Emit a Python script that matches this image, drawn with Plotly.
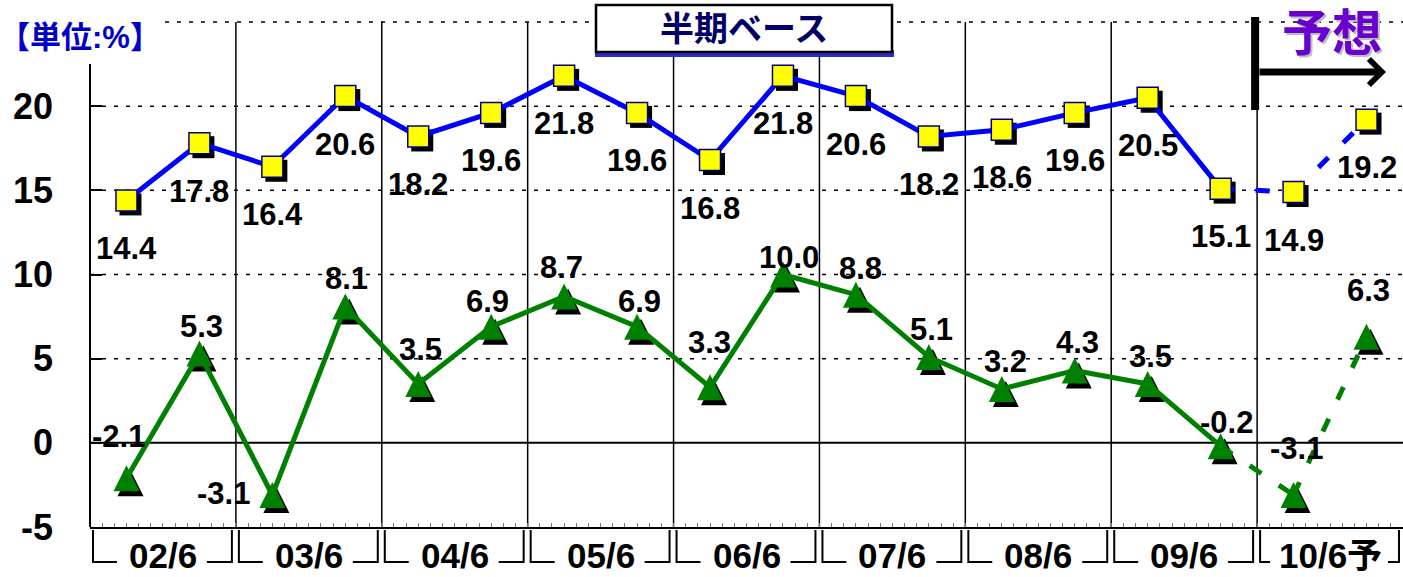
import plotly.graph_objects as go

# ---------------- data ----------------
periods = ["02/6", "03/6", "04/6", "05/6", "06/6", "07/6", "08/6", "09/6", "10/6予"]
blue_vals = [14.4, 17.8, 16.4, 20.6, 18.2, 19.6, 21.8, 19.6, 16.8,
             21.8, 20.6, 18.2, 18.6, 19.6, 20.5, 15.1, 14.9, 19.2]
green_vals = [-2.1, 5.3, -3.1, 8.1, 3.5, 6.9, 8.7, 6.9, 3.3,
              10.0, 8.8, 5.1, 3.2, 4.3, 3.5, -0.2, -3.1, 6.3]
n_actual = 16                      # last two points are forecasts
y_ticks = [-5, 0, 5, 10, 15, 20]
unit_label = "【単位:%】"
title_text = "半期ベース"
forecast_text = "予想"

# ---------------- style / layout constants ----------------
W, H = 1403, 577
ML, MR, MT, MB = 90, 0, 22, 50
PW, PH = W - ML - MR, H - MT - MB
XMIN, XMAX = -0.5, len(blue_vals) - 0.5
YMIN, YMAX = -5, 25
PX_X = PW / (XMAX - XMIN)
PX_Y = PH / (YMAX - YMIN)

FONT = "Liberation Sans, Arial, sans-serif"
CJK = "Liberation Sans, Noto Sans CJK JP, sans-serif"
BLUE = "#0000ff"
GREEN = "#008000"

# label offsets in pixels (dx, dy-up) for green labels
green_label_off = [(-8, 42), (2, 27), (-49, 2), (1, 28), (2, 34), (-4, 25), (-3, 29), (2, 25),
                   (-1, 45), (6, 17), (5, 26), (3, 27), (4, 27), (3, 28), (3, 27), (6, 24),
                   (3, 47), (2, 46)]
blue_label_dy = -48


def xpx(px):
    return (px - ML) / PW


def ypx(py):
    return (H - MB - py) / PH


def xd(v):
    return (v - XMIN) / (XMAX - XMIN)


xs = list(range(len(blue_vals)))

fig = go.Figure()

# shadows
sdx, sdy = 4 / PX_X, 4 / PX_Y
tri_shift = 13 / PX_Y
fig.add_trace(go.Scatter(x=[v + sdx for v in xs], y=[v - sdy for v in blue_vals], mode="markers",
                         marker=dict(symbol="square", size=22, color="black"),
                         hoverinfo="skip", showlegend=False))
fig.add_trace(go.Scatter(x=[v + sdx for v in xs], y=[v + tri_shift - 5 / PX_Y for v in green_vals],
                         mode="markers",
                         marker=dict(symbol="arrow-up", size=26, color="black", line=dict(width=0)),
                         hoverinfo="skip", showlegend=False))

# solid lines (actual)
for vals, col in ((blue_vals, BLUE), (green_vals, GREEN)):
    fig.add_trace(go.Scatter(x=xs[:n_actual], y=vals[:n_actual], mode="lines",
                             line=dict(color=col, width=5), hoverinfo="skip", showlegend=False))
    # dashed forecast segments, each its own trace
    for i in range(n_actual - 1, len(vals) - 1):
        fig.add_trace(go.Scatter(x=xs[i:i + 2], y=vals[i:i + 2], mode="lines",
                                 line=dict(color=col, width=5, dash="14px,21px"),
                                 hoverinfo="skip", showlegend=False))

# markers
fig.add_trace(go.Scatter(x=xs, y=blue_vals, mode="markers",
                         marker=dict(symbol="square", size=21, color="#ffff00",
                                     line=dict(color="#000080", width=1.5)),
                         showlegend=False))
fig.add_trace(go.Scatter(x=xs, y=[v + tri_shift for v in green_vals], mode="markers",
                         marker=dict(symbol="arrow-up", size=26, color=GREEN, line=dict(width=0)),
                         customdata=green_vals, hovertemplate="%{customdata}<extra></extra>",
                         showlegend=False))

annotations = []
for i, v in enumerate(blue_vals):
    annotations.append(dict(x=i, y=v, xref="x", yref="y", text=f"<b>{v:.1f}</b>", showarrow=False,
                            xanchor="center", yanchor="middle",
                            yshift=blue_label_dy, font=dict(family=FONT, size=31, color="black")))
for i, v in enumerate(green_vals):
    dx, dy = green_label_off[i]
    annotations.append(dict(x=i, y=v, xref="x", yref="y", text=f"<b>{v:.1f}</b>", showarrow=False,
                            xanchor="center", yanchor="middle",
                            xshift=dx, yshift=dy, font=dict(family=FONT, size=31, color="black")))

shapes = []
# horizontal dotted gridlines
for yv in y_ticks[2:]:
    shapes.append(dict(type="line", xref="x", yref="y", x0=XMIN, x1=XMAX, y0=yv, y1=yv,
                       line=dict(color="black", width=1.5, dash="4px,8px"), layer="below"))
shapes.append(dict(type="line", xref="paper", yref="paper", x0=xpx(165), x1=1, y0=1, y1=1,
                   line=dict(color="black", width=1.5, dash="4px,8px"), layer="below"))
# zero line
shapes.append(dict(type="line", xref="x", yref="y", x0=XMIN, x1=XMAX, y0=0, y1=0,
                   line=dict(color="black", width=2), layer="below"))
# vertical group separators
n_groups = len(periods)
for k in range(1, n_groups):
    xv = XMIN + 2 * k
    shapes.append(dict(type="line", xref="x", yref="y", x0=xv, x1=xv, y0=YMIN, y1=YMAX,
                       line=dict(color="black", width=1.5), layer="below"))
# left axis line
shapes.append(dict(type="line", xref="paper", yref="paper", x0=0, x1=0, y0=0, y1=ypx(64),
                   line=dict(color="black", width=2)))

# group brackets + labels
for k, lab in enumerate(periods):
    gl = ML + (2 * k) * PX_X
    gr = ML + (2 * k + 2) * PX_X
    L, R = gl + 3, gr - 4
    cx = (gl + gr) / 2
    hw = 36 if len(lab) <= 4 else 50
    ytop, ybot = ypx(530), ypx(562)
    shapes.append(dict(type="path", xref="paper", yref="paper",
                       path=f"M {xpx(L)},{ytop} L {xpx(L)},{ybot} L {xpx(cx - hw - 10)},{ybot}",
                       line=dict(color="black", width=2)))
    shapes.append(dict(type="path", xref="paper", yref="paper",
                       path=f"M {xpx(cx + hw + 8)},{ybot} L {xpx(R)},{ybot} L {xpx(R)},{ytop}",
                       line=dict(color="black", width=2)))
    annotations.append(dict(x=2 * k + 0.5, y=ypx(555), xref="x", yref="paper", text=f"<b>{lab}</b>",
                            showarrow=False, xanchor="center", yanchor="middle",
                            font=dict(family=CJK, size=35, color="black")))

# title box
shapes.append(dict(type="rect", xref="paper", yref="paper", x0=xpx(595), x1=xpx(894),
                   y0=ypx(57), y1=ypx(50), fillcolor="#2b2bd0", line=dict(width=0)))
shapes.append(dict(type="rect", xref="paper", yref="paper", x0=xpx(596), x1=xpx(892),
                   y0=ypx(52), y1=ypx(5), fillcolor="white", line=dict(color="black", width=2.5)))
annotations.append(dict(x=xpx(744), y=ypx(29), xref="paper", yref="paper",
                        xanchor="center", yanchor="middle",
                        text=f"<b>{title_text}</b>", showarrow=False,
                        font=dict(family=CJK, size=34, color="#000066")))

# unit label
annotations.append(dict(x=xpx(-3), y=ypx(37), xref="paper", yref="paper",
                        xanchor="left", yanchor="middle",
                        text=f"<b>{unit_label}</b>", showarrow=False,
                        font=dict(family=CJK, size=31, color="#0000c8")))

# forecast marker
fx = xd(n_actual - 0.5)
shapes.append(dict(type="line", xref="paper", yref="paper", x0=fx - 2 / PW, x1=fx - 2 / PW,
                   y0=ypx(110), y1=ypx(17), line=dict(color="black", width=8)))
annotations.append(dict(x=xpx(1386), y=ypx(72), xref="paper", yref="paper", text="",
                        showarrow=True, ax=-128, ay=0, arrowhead=4, arrowwidth=7,
                        arrowsize=0.72, arrowcolor="black"))
annotations.append(dict(x=xpx(1334), y=ypx(36), xref="paper", yref="paper",
                        xanchor="center", yanchor="middle",
                        text=f"<b>{forecast_text}</b>", showarrow=False,
                        font=dict(family=CJK, size=50, color="#bdbdbd")))
annotations.append(dict(x=xpx(1332), y=ypx(34), xref="paper", yref="paper",
                        xanchor="center", yanchor="middle",
                        text=f"<b>{forecast_text}</b>", showarrow=False,
                        font=dict(family=CJK, size=50, color="#6a00d0")))

fig.update_layout(
    width=W, height=H,
    margin=dict(l=ML, r=MR, t=MT, b=MB),
    plot_bgcolor="white", paper_bgcolor="white",
    shapes=shapes, annotations=annotations,
    showlegend=False,
    xaxis=dict(range=[XMIN, XMAX], showticklabels=False, showgrid=False, zeroline=False,
               ticks="inside", tick0=XMIN, dtick=1 / 6, ticklen=4, tickcolor="#777777",
               tickwidth=1, showline=True, linecolor="black", linewidth=2, fixedrange=True),
    yaxis=dict(range=[YMIN, YMAX], tickvals=y_ticks, ticktext=[f"<b>{t}</b>" for t in y_ticks],
               ticks="inside", ticklen=12, tickwidth=1.5, tickcolor="black",
               showgrid=False, zeroline=False, showline=False, ticklabelstandoff=36,
               tickfont=dict(family=FONT, size=36, color="black"), fixedrange=True),
)

fig.write_html("out.html")
